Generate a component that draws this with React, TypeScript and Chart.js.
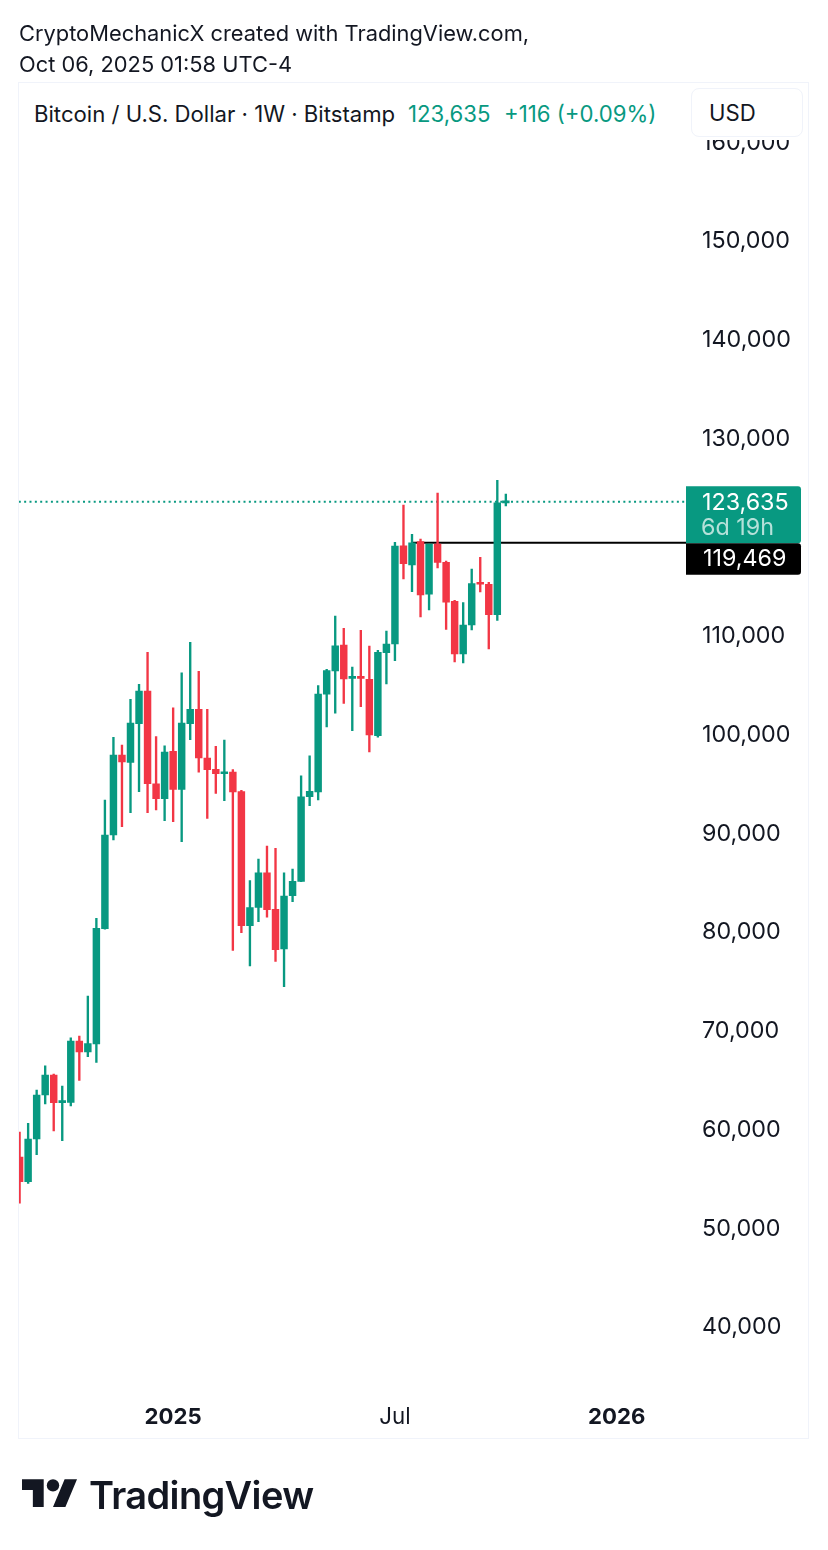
import React, { useEffect, useRef } from "react";
import { Chart, registerables } from "chart.js";

Chart.register(...registerables);

const opens = [57253,54751,59076,63533,65560,62753,62791,68994,67890,68700,80380,89870,97975,97235,101146,104459,95067,93548,98350,94500,101146,102605,97672,96526,96080,96253,94260,80684,82530,86050,82345,78320,83725,85180,93750,94230,104125,106485,109120,105745,105845,105645,99940,108340,109220,119176,117222,119583,114255,119350,117495,113545,108206,111145,115370,115268,112187,123519];
const closes = [54751,59076,63533,65560,62753,62894,68994,67890,68730,80420,89870,97975,97266,101216,104459,95067,93548,98280,94500,101216,102605,97672,96486,96080,96253,94230,80684,82507,86050,82304,78250,83690,85180,93750,94295,104155,106515,109045,105675,105845,105745,100015,108380,109220,119147,117353,119480,114183,119350,117495,113445,108206,111145,115329,115268,112187,123519,123635];
const highs = [59785,60665,64040,66500,65660,64445,69337,69510,73560,81430,93417,99770,98990,103620,105135,108380,99830,98915,102766,106310,109390,106455,102605,98855,99495,96486,94400,85243,87440,88757,88525,86050,86425,95877,97900,105015,106655,112055,110810,106890,110606,109000,108580,110536,119520,123300,120330,119856,119350,124517,117628,113646,113405,116817,118000,115470,125804,124413];
const lows = [52563,54586,57484,62622,59887,58908,62420,65021,67410,66844,80320,89365,90710,92130,94260,92130,92404,91320,91220,89190,99525,96225,91560,94095,93345,78190,79975,76600,81090,81536,77075,74505,83115,85140,92840,93417,100810,102200,103210,100435,102870,98280,99770,105170,107530,115803,114517,111955,112664,116918,110708,107396,107295,110640,114487,108713,111620,123200];

const tickWeeks = [18, 44, 70];
const tickLabels = ["2025", "Jul", "2026"];
const boldTicks = ["2025", "2026"];
const priceTicks = [40000, 50000, 60000, 70000, 80000, 90000, 100000, 110000, 120000, 130000, 140000, 150000, 160000];
const hiddenPriceTicks = [120000];

const lastPrice = 123635;
const linePrice = 119469;
const lineStartWeek = 45.9;
const countdown = "6d 19h";

const GREEN = "#089981";
const RED = "#F23645";
const INK = "#131722";
const FONT = "Inter, sans-serif";
const TICK_SIZE = 23.3;

const fmt = (v: number) => v.toLocaleString("en-US");
const weeks = opens.map((_, i) => i);
const colors = opens.map((o, i) => (closes[i] >= o ? GREEN : RED));

const tagsPlugin = {
  id: "priceTags",
  afterDraw(chart: any) {
    const { ctx, scales } = chart;
    const y = scales.y;
    const left = chart.chartArea.right;
    const w = 115;
    const lastY = y.getPixelForValue(lastPrice);
    const blackY = y.getPixelForValue(linePrice);
    const tagTop = lastY - 15.5;
    const mid = blackY + 0.5;
    const blackBottom = blackY + 32;
    ctx.save();
    ctx.fillStyle = GREEN;
    ctx.beginPath();
    ctx.roundRect(left, tagTop, w, mid - tagTop, [0, 3, 3, 0]);
    ctx.fill();
    ctx.fillStyle = "#000000";
    ctx.beginPath();
    ctx.roundRect(left, mid, w, blackBottom - mid, [0, 3, 3, 0]);
    ctx.fill();
    ctx.textBaseline = "middle";
    ctx.textAlign = "left";
    ctx.font = `${TICK_SIZE}px ${FONT}`;
    ctx.fillStyle = "#ffffff";
    ctx.fillText(fmt(lastPrice), left + 16, lastY + 1);
    ctx.fillText(fmt(linePrice), left + 17, blackY + 16.5);
    ctx.fillStyle = "rgba(255,255,255,0.7)";
    ctx.fillText(countdown, left + 15, lastY + 26);
    ctx.restore();
  },
};

const textStyle = (left: number, top: number, size: number, color = INK, extra: React.CSSProperties = {}): React.CSSProperties => ({
  position: "absolute",
  left,
  top,
  fontFamily: FONT,
  fontSize: size,
  lineHeight: "30px",
  color,
  whiteSpace: "nowrap",
  ...extra,
});

export default function App() {
  const ref = useRef<HTMLCanvasElement>(null);
  useEffect(() => {
    const chart = new Chart(ref.current as HTMLCanvasElement, {
      type: "bar",
      data: {
        datasets: [
          {
            label: "Bodies",
            data: weeks.map((i) => ({ x: i, y: [opens[i], closes[i]] })),
            backgroundColor: colors,
            barThickness: 6.8,
            minBarLength: 2,
            borderWidth: 0,
            order: 1,
            grouped: false,
          },
          {
            label: "Wicks",
            data: weeks.map((i) => ({ x: i, y: [lows[i], highs[i]] })),
            backgroundColor: colors,
            barThickness: 1.7,
            borderWidth: 0,
            order: 2,
            grouped: false,
          },
          {
            type: "line",
            label: "Last",
            data: [{ x: -0.094, y: lastPrice }, { x: 78.12, y: lastPrice }],
            borderColor: GREEN,
            borderWidth: 2,
            borderDash: [2, 3.35],
            pointRadius: 0,
            order: 3,
          },
          {
            type: "line",
            label: "Level",
            data: [{ x: lineStartWeek, y: linePrice }, { x: 78.12, y: linePrice }],
            borderColor: "#000000",
            borderWidth: 2,
            pointRadius: 0,
            order: 3,
          },
        ] as any,
      },
      options: {
        animation: false,
        responsive: false,
        devicePixelRatio: 1,
        layout: { padding: { left: 18.8, top: 82, right: 19, bottom: 111 } },
        plugins: { legend: { display: false }, tooltip: { enabled: false } },
        scales: {
          x: {
            type: "linear",
            offset: false,
            min: -0.094,
            max: 78.12,
            grid: { display: false, drawTicks: false },
            border: { display: false },
            afterFit(scale: any) { scale.height = 43; },
            afterBuildTicks(scale: any) { scale.ticks = tickWeeks.map((value) => ({ value })); },
            ticks: {
              autoSkip: false,
              maxRotation: 0,
              padding: 8,
              color: INK,
              callback: (v: any) => tickLabels[tickWeeks.indexOf(v)],
              font: (c: any) => {
                const bold = boldTicks.includes(tickLabels[c.index]);
                return { family: FONT, size: bold ? 22.2 : 22.3, weight: bold ? "bold" : "normal" };
              },
            },
          },
          y: {
            position: "right",
            min: 33042,
            max: 166150,
            grid: { display: false, drawTicks: false },
            border: { display: false },
            afterFit(scale: any) { scale.width = 123; },
            afterBuildTicks(scale: any) { scale.ticks = priceTicks.map((value) => ({ value })); },
            ticks: {
              autoSkip: false,
              padding: 16,
              color: INK,
              font: { family: FONT, size: TICK_SIZE },
              callback: (v: any) => (hiddenPriceTicks.includes(Number(v)) ? "" : fmt(Number(v))),
            },
          },
        },
      },
      plugins: [tagsPlugin],
    } as any);
    return () => chart.destroy();
  }, []);

  return (
    <div style={{ position: "absolute", left: 0, top: 0, width: 828, height: 1550, background: "#fff", overflow: "hidden" }}>
      <canvas ref={ref} width={828} height={1550} style={{ position: "absolute", left: 0, top: 0, display: "block" }} />
      <div style={{ position: "absolute", left: 18, top: 82, width: 791, height: 1357, boxSizing: "border-box", border: "1px solid #f0f3fa" }} />
      <div style={{ position: "absolute", left: 19, top: 83, width: 789, height: 57, background: "#fff" }} />
      <div style={textStyle(19, 18, 21.85)}>CryptoMechanicX created with TradingView.com,</div>
      <div style={textStyle(19, 49, 21.85)}>Oct 06, 2025 01:58 UTC-4</div>
      <div style={textStyle(34, 99, 22.15)}>Bitcoin / U.S. Dollar · 1W · Bitstamp</div>
      <div style={textStyle(408, 99, 22.2, GREEN)}>123,635</div>
      <div style={textStyle(504, 99, 22.2, GREEN)}>+116 (+0.09%)</div>
      <div style={{ position: "absolute", left: 691, top: 88, width: 112, height: 49, boxSizing: "border-box", border: "1px solid #f0f3fa", borderRadius: 8, background: "#fff" }} />
      <div style={textStyle(709, 98, 22.2)}>USD</div>
      <svg style={{ position: "absolute", left: 22, top: 1472.8 }} width={55.8} height={43.4} viewBox="0 0 36 28">
        <path fill={INK} d="M14 22H7V11H0V4h14v18zM28 22h-8l7.5-18h8L28 22z" />
        <circle fill={INK} cx="20" cy="8" r="4" />
      </svg>
      <div style={textStyle(89, 1476, 38, INK, { fontWeight: 600, letterSpacing: -0.65, lineHeight: "38px" })}>TradingView</div>
    </div>
  );
}
